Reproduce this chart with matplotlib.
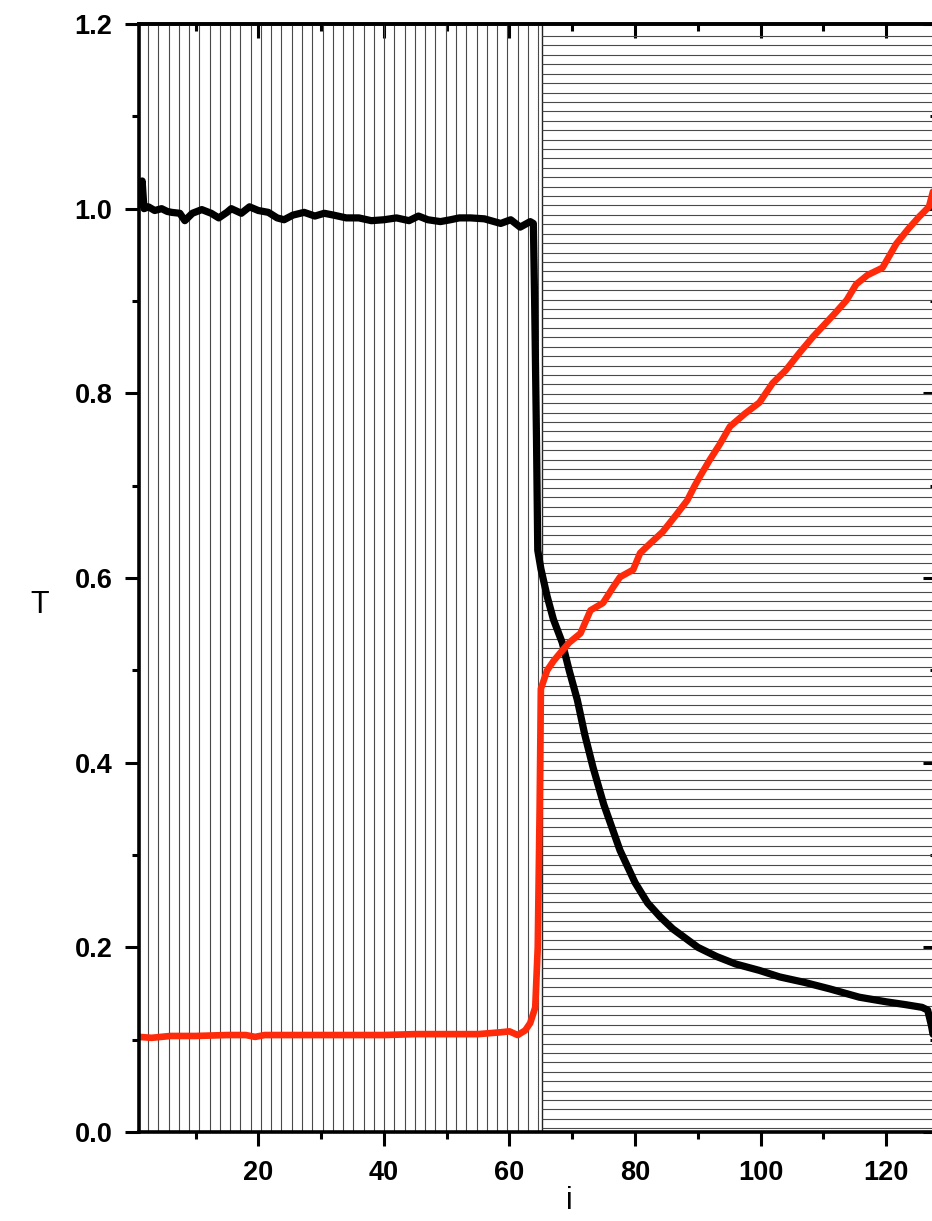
import numpy as np
import matplotlib
matplotlib.use("Agg")
from matplotlib import pyplot as plt
from matplotlib.ticker import MultipleLocator, FormatStrFormatter

plt.rcParams['font.family'] = ['Liberation Sans', 'DejaVu Sans']

# black curve (i, T)
black_i = [1.0, 1.5, 1.8, 2.5, 3.5, 4.6, 5.5, 6.2, 7.5, 8.3, 9.5, 11.0, 12.5, 13.7,
           15.0, 15.7, 17.3, 18.6, 20.0, 21.6, 23.0, 24.1, 25.5, 27.3, 29.0, 30.5,
           32.0, 34.0, 36.0, 38.0, 40.0, 42.0, 44.0, 45.5, 47.0, 49.0, 50.6, 52.0,
           53.8, 56.0, 58.6, 60.2, 61.7, 63.3, 63.8, 64.0, 64.3, 64.5, 65.0, 66.0,
           67.0, 68.4, 69.5, 70.8, 72.0, 73.3, 75.0, 77.6, 80.0, 82.0, 84.0, 86.0,
           88.0, 90.0, 93.0, 96.0, 99.8, 103.0, 107.0, 111.0, 115.7, 120.0, 123.0,
           125.7, 126.6, 127.2, 127.6]
black_T = [1.005, 1.03, 1.0, 1.002, 0.998, 1.0, 0.997, 0.996, 0.995, 0.987, 0.995, 0.999,
           0.995, 0.99, 0.996, 1.0, 0.995, 1.002, 0.998, 0.996, 0.99, 0.988, 0.993, 0.996,
           0.992, 0.995, 0.993, 0.99, 0.99, 0.987, 0.988, 0.99, 0.987, 0.992, 0.988,
           0.986, 0.988, 0.99, 0.99, 0.989, 0.984, 0.988, 0.98, 0.986, 0.984, 0.90,
           0.75, 0.63, 0.61, 0.58, 0.555, 0.53, 0.50, 0.468, 0.43, 0.395, 0.355, 0.305,
           0.27, 0.248, 0.233, 0.22, 0.21, 0.20, 0.19, 0.182, 0.175, 0.168, 0.162,
           0.155, 0.146, 0.141, 0.138, 0.135, 0.132, 0.115, 0.10]

# red curve (i, T)
red_i = [1.0, 3.0, 6.0, 10.0, 15.0, 18.0, 19.5, 21.0, 25.0, 30.0, 35.0, 40.0, 45.0,
         50.0, 55.0, 58.6, 60.0, 61.3, 62.5, 63.3, 64.1, 64.5, 64.8, 65.0, 66.0, 67.0,
         68.1, 69.5, 71.3, 72.9, 74.9, 76.5, 77.6, 79.7, 80.8, 82.5, 84.4, 86.5, 88.3,
         89.5, 90.5, 91.9, 93.5, 95.1, 97.5, 99.8, 101.9, 104.0, 106.2, 108.3, 110.5,
         112.0, 113.7, 115.2, 117.0, 119.4, 121.6, 123.5, 125.2, 126.8, 127.5, 128.0]
red_T = [0.103, 0.102, 0.104, 0.104, 0.105, 0.105, 0.103, 0.105, 0.105, 0.105, 0.105,
         0.105, 0.106, 0.106, 0.106, 0.108, 0.109, 0.105, 0.11, 0.118, 0.135, 0.2, 0.35,
         0.48, 0.50, 0.51, 0.519, 0.53, 0.54, 0.565, 0.573, 0.59, 0.601, 0.609, 0.627,
         0.638, 0.65, 0.668, 0.684, 0.70, 0.712, 0.728, 0.745, 0.764, 0.778, 0.79,
         0.811, 0.825, 0.844, 0.861, 0.877, 0.888, 0.901, 0.918, 0.928, 0.936, 0.962,
         0.978, 0.991, 1.002, 1.02, 1.03]

x_ticks = [20, 40, 60, 80, 100, 120]
y_ticks = [0.0, 0.2, 0.4, 0.6, 0.8, 1.0, 1.2]

W, H = 932, 1221
fig = plt.figure(figsize=(W / 100, H / 100), dpi=100)
ax = fig.add_axes([139 / W, (H - 1132) / H, (936.5 - 139) / W, 1108 / H])
ax.set_xlim(1, 128)
ax.set_ylim(0, 1.2)

# mesh lines: vertical on the left part, horizontal on the right part
split = 65.2
for xv in np.linspace(2.43, 64.56, 39):
    ax.axvline(xv, color='#4a4a4a', lw=0.8, zorder=1)
ax.axvline(split, color='#222222', lw=1.0, zorder=1)
ax.hlines(np.linspace(0.004, 1.187, 117), split, 128, color='#4a4a4a', lw=0.8, zorder=1)

ax.plot(black_i, black_T, color='black', lw=5.2, zorder=3,
        solid_joinstyle='round', solid_capstyle='round')
ax.plot(red_i, red_T, color='#ff2a0a', lw=4.8, zorder=3,
        solid_joinstyle='round', solid_capstyle='round')

for s in ax.spines.values():
    s.set_linewidth(2.6)
    s.set_zorder(4)

ax.xaxis.set_minor_locator(MultipleLocator(10))
ax.set_xticks(x_ticks)
ax.yaxis.set_minor_locator(MultipleLocator(0.1))
ax.set_yticks(y_ticks)
ax.yaxis.set_major_formatter(FormatStrFormatter('%.1f'))
ax.tick_params(which='major', direction='out', length=10, width=2.2, labelsize=19.5)
ax.tick_params(which='minor', direction='out', length=5, width=2.2)
ax.tick_params(axis='x', which='major', pad=10)
ax.tick_params(axis='y', which='major', pad=9)
for lab in ax.get_xticklabels() + ax.get_yticklabels():
    lab.set_fontweight('bold')

# inward ticks on the top and right sides
top = ax.secondary_xaxis('top')
top.xaxis.set_major_locator(MultipleLocator(20))
top.xaxis.set_minor_locator(MultipleLocator(10))
top.tick_params(which='major', direction='in', length=10, width=2.2, labeltop=False)
top.tick_params(which='minor', direction='in', length=5, width=2.2)
top.spines['top'].set_linewidth(2.6)
right = ax.secondary_yaxis('right')
right.yaxis.set_major_locator(MultipleLocator(0.2))
right.yaxis.set_minor_locator(MultipleLocator(0.1))
right.tick_params(which='major', direction='in', length=10, width=2.2, labelright=False)
right.tick_params(which='minor', direction='in', length=5, width=2.2)

ax.set_xlabel('i', fontsize=22, va='center')
ax.set_ylabel('T', fontsize=22, rotation=0, va='center', ha='center')
ax.xaxis.set_label_coords(0.54, -0.062)
ax.yaxis.set_label_coords(-0.124, 0.476)

plt.savefig('out.png', dpi=100)
plt.close()
